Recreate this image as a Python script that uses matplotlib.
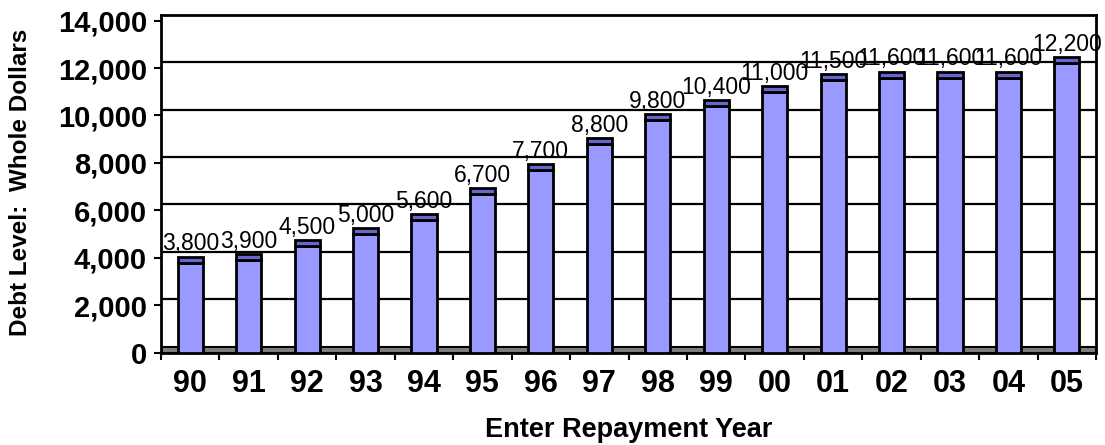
import numpy as np
import matplotlib.pyplot as plt

# Data
years = ['90', '91', '92', '93', '94', '95', '96', '97',
         '98', '99', '00', '01', '02', '03', '04', '05']
debt = [3800, 3900, 4500, 5000, 5600, 6700, 7700, 8800,
        9800, 10400, 11000, 11500, 11600, 11600, 11600, 12200]
yticks = [0, 2000, 4000, 6000, 8000, 10000, 12000, 14000]

# Style
face = '#9999FF'
top_face = '#6666CC'
floor_col = '#808080'
depth = 250  # fake 3D depth, in data units
plt.rcParams['font.family'] = ['Liberation Sans', 'DejaVu Sans']

fig = plt.figure(figsize=(11.05, 4.45), dpi=100)
ax = fig.add_axes([0.1457, 0.2074, 0.9919 - 0.1457, 0.967 - 0.2074])

x = np.arange(len(years))
w = 0.43

# floor and back wall gridlines
ax.axhspan(0, depth, facecolor=floor_col, edgecolor='black', lw=1.5, zorder=1)
ax.hlines([t + depth for t in yticks[1:-1]], -0.5, 15.5, colors='black', lw=1.6, zorder=1)

# bars with darker top face
ax.bar(x, debt, width=w, color=face, edgecolor='black', lw=2, zorder=3)
ax.bar(x, depth, bottom=debt, width=w, color=top_face, edgecolor='black', lw=2, zorder=3)

for xi, v in zip(x, debt):
    ax.annotate(f'{v:,}', (xi, v + depth), xytext=(0, 4.5), textcoords='offset points',
                ha='center', va='baseline', fontsize=16.5, zorder=5)

ax.set_xlim(-0.5, 15.5)
ax.set_ylim(0, 14000 + depth)

ax.set_yticks(yticks)
ax.set_yticklabels([f'{t:,}' for t in yticks], fontsize=21, fontweight='bold')
ax.set_xticks(np.arange(-0.5, 16, 1))
ax.set_xticklabels([])
ax.set_xticks(x, minor=True)
ax.set_xticklabels(years, minor=True, fontsize=22, fontweight='bold')
ax.tick_params(axis='y', length=5, width=1.5, pad=5)
ax.tick_params(axis='x', which='major', length=5, width=1.5, direction='out')
ax.tick_params(axis='x', which='minor', length=0, pad=12)

for s in ax.spines.values():
    s.set_linewidth(2)

fig.text(0.5687, 0.033, 'Enter Repayment Year', ha='center', va='center',
         fontsize=19.5, fontweight='bold')
fig.text(0.019, 0.59, 'Debt Level:  Whole Dollars', rotation=90, ha='center', va='center',
         fontsize=17.5, fontweight='bold')

fig.savefig('out.png', dpi=100)
